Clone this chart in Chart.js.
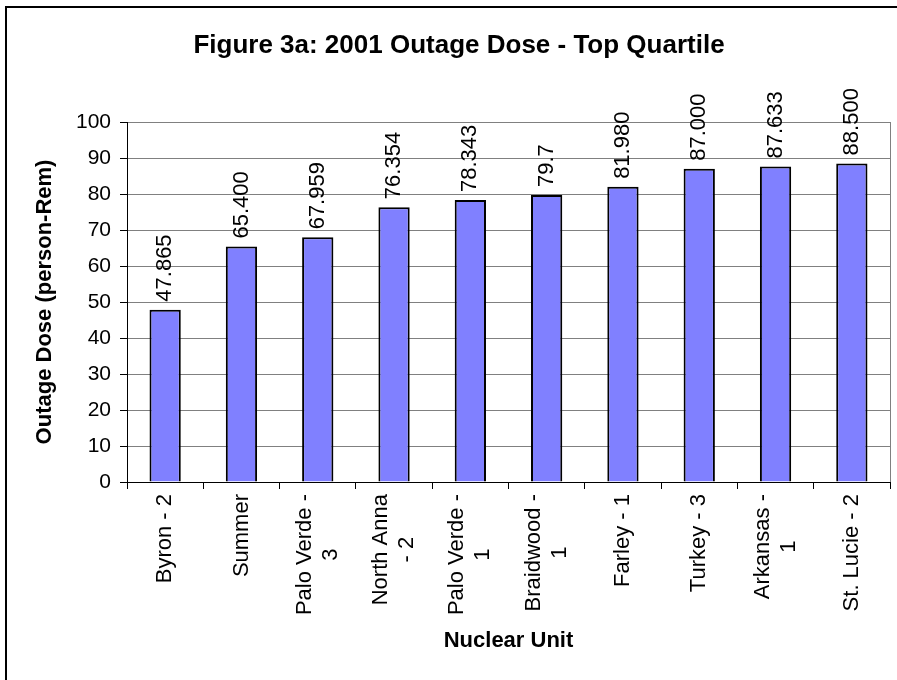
<!DOCTYPE html>
<html>
<head>
<meta charset="utf-8">
<title>Figure 3a: 2001 Outage Dose - Top Quartile</title>
<script src="https://cdn.jsdelivr.net/npm/chart.js@4.4.1/dist/chart.umd.min.js"></script>
<style>
  html, body { margin: 0; padding: 0; background: #fff; }
  #wrap { width: 897px; height: 680px; }
</style>
</head>
<body>
<div id="wrap"><canvas id="chart" width="897" height="680"></canvas></div>
<script>
const chartTitle = 'Figure 3a: 2001 Outage Dose - Top Quartile';
const units = [
  ['Byron - 2'],
  ['Summer'],
  ['Palo Verde -', '3'],
  ['North Anna', '- 2'],
  ['Palo Verde -', '1'],
  ['Braidwood -', '1'],
  ['Farley - 1'],
  ['Turkey - 3'],
  ['Arkansas -', '1'],
  ['St. Lucie - 2'],
];
const doseValues = [47.865, 65.4, 67.959, 76.354, 78.343, 79.7, 81.98, 87.0, 87.633, 88.5];
const doseLabels = ['47.865', '65.400', '67.959', '76.354', '78.343', '79.7', '81.980', '87.000', '87.633', '88.500'];

const FONT = 'Arial, "Liberation Sans", sans-serif';

// frame, title, plot right edge and the rotated texts
const decorPlugin = {
  id: 'decor',
  beforeDraw(chart) {
    const { ctx, width, height } = chart;
    ctx.save();
    ctx.fillStyle = '#fff';
    ctx.fillRect(0, 0, width, height);
    ctx.strokeStyle = '#000';
    ctx.lineWidth = 2;
    ctx.beginPath();
    ctx.moveTo(6, height);
    ctx.lineTo(6, 7);
    ctx.lineTo(width, 7);
    ctx.stroke();

    ctx.fillStyle = '#000';
    ctx.font = 'bold 26px ' + FONT;
    ctx.textAlign = 'center';
    ctx.textBaseline = 'alphabetic';
    ctx.fillText(chartTitle, 459, 53);
    ctx.restore();
  },
  afterDatasetsDraw(chart) {
    const { ctx, chartArea } = chart;
    ctx.save();
    ctx.strokeStyle = '#808080';
    ctx.lineWidth = 1;
    ctx.beginPath();
    ctx.moveTo(Math.round(chartArea.right) + 0.5, chartArea.top);
    ctx.lineTo(Math.round(chartArea.right) + 0.5, chartArea.bottom);
    ctx.stroke();

    // value labels above bars
    ctx.fillStyle = '#000';
    ctx.font = '22px ' + FONT;
    ctx.textAlign = 'left';
    ctx.textBaseline = 'middle';
    const meta = chart.getDatasetMeta(0);
    meta.data.forEach((bar, i) => {
      ctx.save();
      ctx.translate(bar.x, bar.y - 8);
      ctx.rotate(-Math.PI / 2);
      ctx.fillText(doseLabels[i], 0, 0);
      ctx.restore();
    });

    // category labels, rotated, lines centred like the original
    const xScale = chart.scales.x;
    const lineH = 26;
    chart.data.labels.forEach((lines, i) => {
      const x = xScale.getPixelForTick(i);
      let w = 0;
      lines.forEach((l) => { w = Math.max(w, ctx.measureText(l).width); });
      ctx.save();
      ctx.translate(x, chartArea.bottom + 12);
      ctx.rotate(-Math.PI / 2);
      ctx.textAlign = 'center';
      lines.forEach((l, k) => {
        ctx.fillText(l, -w / 2, (k - (lines.length - 1) / 2) * lineH);
      });
      ctx.restore();
    });
    ctx.restore();
  },
};

new Chart(document.getElementById('chart'), {
  type: 'bar',
  data: {
    labels: units,
    datasets: [{
      label: 'Outage Dose',
      data: doseValues,
      backgroundColor: '#8080ff',
      borderColor: '#000',
      borderWidth: 2,
      borderSkipped: 'start',
      categoryPercentage: 1,
      barPercentage: 0.41,
    }],
  },
  options: {
    responsive: false,
    animation: false,
    devicePixelRatio: 1,
    layout: { padding: { left: 0, right: 7, top: 122, bottom: 0 } },
    plugins: {
      legend: { display: false },
      tooltip: { enabled: false },
      title: { display: false },
    },
    scales: {
      x: {
        ticks: { display: false },
        grid: {
          drawOnChartArea: false,
          drawTicks: true,
          tickLength: 7,
          tickColor: '#000',
        },
        border: { color: '#000', width: 1 },
        title: {
          display: true,
          text: 'Nuclear Unit',
          color: '#000',
          font: { family: FONT, size: 22, weight: 'bold' },
          padding: { top: 0, bottom: 26 },
        },
        afterFit(scale) { scale.height = 198; },
      },
      y: {
        min: 0,
        max: 100,
        ticks: {
          stepSize: 10,
          color: '#000',
          padding: 9,
          font: { family: FONT, size: 21 },
        },
        grid: {
          color: '#808080',
          tickLength: 7,
          tickColor: '#000',
        },
        border: { color: '#000', width: 1 },
        title: {
          display: true,
          text: 'Outage Dose (person-Rem)',
          color: '#000',
          font: { family: FONT, size: 22, weight: 'bold' },
          padding: { top: 32, bottom: 0 },
        },
        afterFit(scale) { scale.width = 127; },
      },
    },
  },
  plugins: [decorPlugin],
});
</script>
</body>
</html>
